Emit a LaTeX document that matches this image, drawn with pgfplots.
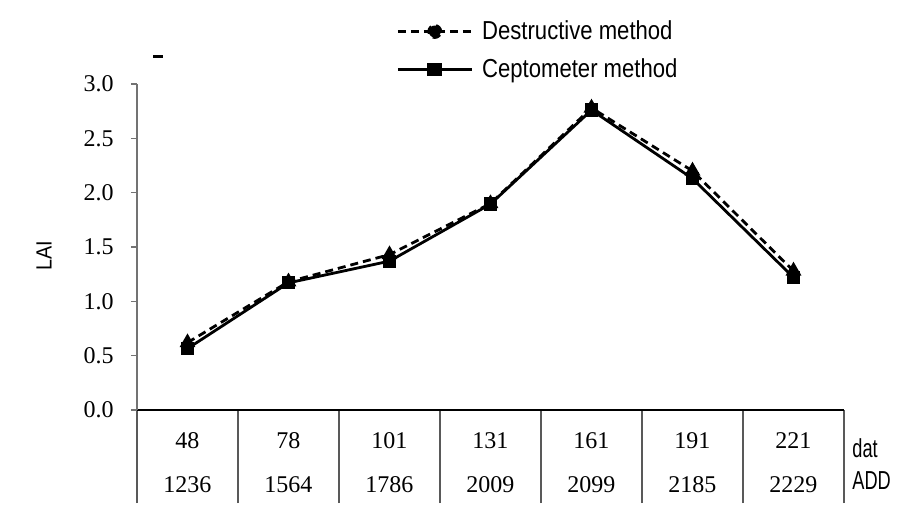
\documentclass[border=0pt]{standalone}
\usepackage{pgfplots}
\pgfplotsset{compat=1.18}
\usepackage{fontspec}
\setmainfont{Liberation Serif}
\newfontfamily\condA{Liberation Sans}[FakeStretch=0.85]
\newfontfamily\condB{Liberation Sans}[FakeStretch=0.7]
\newfontfamily\condC{Liberation Sans}[FakeStretch=0.9]
\begin{document}
\begin{tikzpicture}
\useasboundingbox (-68.5pt,-54pt) rectangle (391.5pt,205pt);
\begin{axis}[
  scale only axis,
  width=353.5pt, height=163pt,
  xmin=-0.5, xmax=6.5,
  ymin=0, ymax=3,
  axis x line*=bottom,
  axis y line*=left,
  x axis line style={black, line width=0.8pt, -},
  y axis line style={black!55, line width=0.6pt, -},
  xtick={0,1,2,3,4,5,6},
  xticklabels={48,78,101,131,161,191,221},
  xticklabel style={anchor=base, inner sep=0pt, yshift=-16pt,
     font=\fontsize{12}{14}\selectfont},
  extra x ticks={0,1,2,3,4,5,6},
  extra x tick labels={1236,1564,1786,2009,2099,2185,2229},
  extra x tick style={major tick length=0pt, tick style={draw=none},
     xticklabel style={yshift=-25.5pt}},
  major x tick style={draw=none},
  minor xtick={-0.5,0.5,1.5,2.5,3.5,4.5,5.5,6.5},
  minor tick length=46.5pt,
  minor x tick style={black!65, line width=0.6pt},
  tick align=outside,
  major tick length=3pt,
  ytick={0,0.5,1,1.5,2,2.5,3},
  y tick style={black!55, line width=0.6pt},
  yticklabel style={/pgf/number format/fixed, /pgf/number format/fixed zerofill,
     /pgf/number format/precision=1, anchor=east, inner sep=0pt, xshift=-8.5pt,
     font=\fontsize{12}{14}\selectfont},
  /pgf/number format/assume math mode=true,
  ylabel={\condC LAI},
  ylabel style={at={(axis description cs:-0.1315,0.472)}, anchor=center, rotate=0,
     font=\fontsize{11}{13}\selectfont},
  legend style={draw=none, fill=none, at={(axis description cs:0.3663,1.208)},
     anchor=north west, inner sep=0pt, row sep=4pt,
     font=\condA\fontsize{13}{15}\selectfont},
  legend cell align=left,
  clip=false,
]
\addplot[black, line width=1.4pt, dash pattern=on 4pt off 2.5pt,
  mark=triangle*, mark size=3.2pt, mark options={solid},
  legend image code/.code={
    \draw[black, line width=1.4pt, dash pattern=on 4pt off 2.5pt] (0pt,0pt) -- (37pt,0pt);
    \fill[black] (18.5pt,0pt) circle (3pt);}]
  coordinates {(0,0.62) (1,1.18) (2,1.43) (3,1.90) (4,2.78) (5,2.20) (6,1.28)};
\addlegendentry{\hspace{2.5pt}Destructive method}
\addplot[black, line width=1.4pt, mark=square*, mark size=2.6pt,
  legend image code/.code={
    \draw[black, line width=1.4pt] (0pt,0pt) -- (37pt,0pt);
    \fill[black] (15.5pt,-2.6pt) rectangle (21.5pt,2.6pt);}]
  coordinates {(0,0.565) (1,1.17) (2,1.37) (3,1.895) (4,2.76) (5,2.13) (6,1.22)};
\addlegendentry{\hspace{2.5pt}Ceptometer method}
\node[anchor=base west, inner sep=0pt, font=\condB\fontsize{13}{15}\selectfont]
  at (axis description cs:1.0113,-0.147) {dat};
\node[anchor=base west, inner sep=0pt, font=\condB\fontsize{13}{15}\selectfont]
  at (axis description cs:1.0113,-0.245) {ADD};
\end{axis}
\draw[black, line width=1.5pt] (8pt,176.5pt) -- (13pt,176.5pt);
\end{tikzpicture}
\end{document}
